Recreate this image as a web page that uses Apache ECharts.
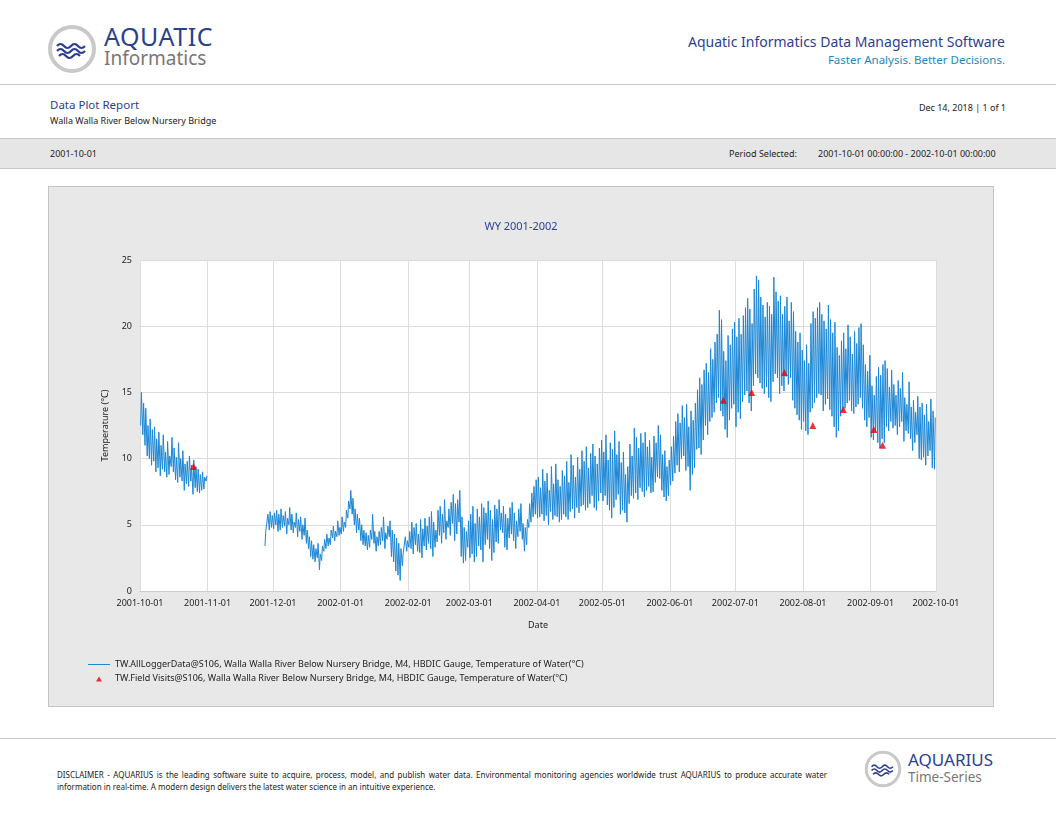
<!DOCTYPE html>
<html>
<head>
<meta charset="utf-8">
<script src="https://cdn.jsdelivr.net/npm/echarts@6.0.0/dist/echarts.min.js"></script>
<style>
  body { margin: 0; width: 1056px; height: 816px; background: #fff; font-family: "Noto Sans", sans-serif; position: relative; overflow: hidden; }
  .abs { position: absolute; white-space: nowrap; }
  .hr { position: absolute; left: 0; width: 1056px; height: 1px; background: #c8c8c8; }
  #panel { position: absolute; left: 48px; top: 186px; width: 944px; height: 519px; background: #e8e8e8; border: 1px solid #c4c4c4; }
  #chart { width: 944px; height: 519px; }
</style>
</head>
<body>
<svg class="abs" style="left:47px;top:24px" width="50" height="50" viewBox="0 0 50 50">
  <circle cx="25" cy="25" r="22" fill="#fff" stroke="#c9c9c9" stroke-width="4"/>
  <path d="M10 22 q3.5 -4 7 0 t7 0 t7 0 t7 0 M10 27 q3.5 -4 7 0 t7 0 t7 0 t7 0 M12 32 q3.5 -4 7 0 t7 0 t7 0" fill="none" stroke="#2b3f8f" stroke-width="2.2"/>
</svg>
<div class="abs" style="left:104px;top:22px;font-size:25px;color:#2b3f8f;line-height:28px;letter-spacing:0.5px">AQUATIC</div>
<div class="abs" style="left:104px;top:47px;font-size:19px;color:#777;line-height:22px">Informatics</div>
<div class="abs" style="right:51px;top:32px;font-size:14px;color:#2b3f8f">Aquatic Informatics Data Management Software</div>
<div class="abs" style="right:51px;top:52px;font-size:11.5px;color:#1a8ac2">Faster Analysis. Better Decisions.</div>
<div class="hr" style="top:84px"></div>
<div class="abs" style="left:50px;top:97px;font-size:11.5px;color:#2b3f8f">Data Plot Report</div>
<div class="abs" style="left:50px;top:114px;font-size:9px;color:#222">Walla Walla River Below Nursery Bridge</div>
<div class="abs" style="right:50px;top:101px;font-size:9px;color:#222">Dec 14, 2018 | 1 of 1</div>
<div class="abs" style="left:0;top:138px;width:1056px;height:29px;background:#e6e6e6;border-top:1px solid #c8c8c8;border-bottom:1px solid #c8c8c8"></div>
<div class="abs" style="left:50px;top:147px;font-size:9px;color:#222">2001-10-01</div>
<div class="abs" style="left:729px;top:147px;font-size:9px;color:#222">Period Selected:</div>
<div class="abs" style="left:818px;top:147px;font-size:9px;color:#222">2001-10-01 00:00:00 - 2002-10-01 00:00:00</div>
<div id="panel"><div id="chart"></div></div>
<div class="hr" style="top:738px"></div>
<div class="abs" style="left:57px;top:769px;font-size:8px;color:#222;line-height:12px;white-space:normal;width:770px;text-align:justify">DISCLAIMER - AQUARIUS is the leading software suite to acquire, process, model, and publish water data. Environmental monitoring agencies worldwide trust AQUARIUS to produce accurate water information in real-time. A modern design delivers the latest water science in an intuitive experience.</div>
<svg class="abs" style="left:864px;top:750px" width="38" height="38" viewBox="0 0 50 50">
  <circle cx="25" cy="25" r="22" fill="#fff" stroke="#c9c9c9" stroke-width="4"/>
  <path d="M10 22 q3.5 -4 7 0 t7 0 t7 0 t7 0 M10 27 q3.5 -4 7 0 t7 0 t7 0 t7 0 M12 32 q3.5 -4 7 0 t7 0 t7 0" fill="none" stroke="#2b3f8f" stroke-width="2.2"/>
</svg>
<div class="abs" style="left:908px;top:750px;font-size:17px;color:#2b3f8f;line-height:20px">AQUARIUS</div>
<div class="abs" style="left:908px;top:769px;font-size:13.5px;color:#777;line-height:16px">Time-Series</div>
<script>
// Daily max,min water temperature (°C)
const dailyMaxMin = {
  '2001-10-01': '15,12.5 14.2,11.8 13.8,11 12.5,10.2 13,10 12.2,9.5 12.4,9.8 11.5,9 12,9.3 11,8.7 11.8,9.2 10.5,9 11.3,8.6 10.2,8.8 11.6,9.4 10.8,9 10.1,8.4 11.2,8.2 10,8.6 10.6,8.3 9.6,7.6 9.8,8.1 10.2,7.9 9.5,8.3 9.9,7.3 9.4,7.8 9.2,7.5 8.8,7.4 9,7.6 8.6,7.7 8.7,8.3',
  '2001-11-27': '4.5,3.4 5.8,4.4 6,4.6 5.7,4.8',
  '2001-12-01': '5.9,4.7 6.1,5 5.8,4.5 6.2,4.6 5.7,4.8 6,4.9 5.5,4.3 6.3,5 5.8,4.6 5.2,4.4 5.9,4.8 5.4,4.1 5.6,4.5 5,3.9 5.5,4.2 4.6,3.6 4.1,3.2 3.8,2.6 3.5,2.4 3.2,2.2 3.6,2.5 2.8,1.6 3.4,2.3 3.9,3 4.3,3.2 4,3.4 4.6,3.5 4.9,4 4.5,3.8 5.3,4.1 4.8,4.2',
  '2002-01-01': '5.6,4.3 5.2,4.5 6.1,4.8 6.8,5.5 7.6,6.2 7,5.8 6.2,5 5.8,4.4 5.5,4.6 5,3.8 4.6,3.5 4.4,3.4 4.2,3.1 4.6,3.3 5.8,3.9 4.5,3.6 4.1,3 4.5,3.4 4.8,3.5 5.6,3.8 4.4,3.2 4.9,3.9 5.3,4.1 4.6,2.6 4.3,2.2 4,1.5 3.6,1.2 3.2,0.8 2.8,1.9 4.1,2.8 3.8,3',
  '2002-02-01': '4.5,3.3 5.2,3.2 4.8,2.8 5.1,3.5 4.3,3 5.4,2.9 4.7,2.5 5.5,3.4 4.9,3.1 5.6,3.6 6,3.2 5.2,2.6 4.6,3.3 6.1,3.7 6.4,4.2 5.8,3.6 6.9,4.4 5.3,3.9 6.2,4.8 6.7,4.2 7.3,5.1 6.6,3.8 6.9,4.3 7.6,5.2 5.6,2.6 4.8,2.1 4.5,2.3 5.3,3.3',
  '2002-03-01': '5.8,2.5 6.4,2.8 5.1,2.2 6.2,2.6 5.6,3.4 6.6,3.1 6.3,2.2 5.9,3.5 6.8,3.9 6.1,3.2 5.4,2.3 6.5,2.9 6.2,3.7 6.9,3.6 5.9,4.6 6.4,4.4 5.8,3.3 5.5,3.1 6.3,4 6.7,4.3 5.9,3.8 5.3,3.2 6.2,4.1 6.6,4.5 5.1,3.9 4.8,3 5.4,3.5 6.6,4.8 7.4,5.2 7.9,5.6 8.4,5.8',
  '2002-04-01': '8.6,5.5 7.8,5.6 9.2,5.8 8.3,5.3 8.9,5.7 7.6,5 9.4,6 8.1,5.4 9.6,5.7 8.4,5.6 7.9,5.2 9.1,5.4 8.7,5.8 9.8,5.6 8.2,5.4 10.3,6 9.5,6.2 8.6,5.5 10.1,6.3 9.2,5.9 10.6,6.4 9.8,6.5 10.9,6.1 9.3,6.3 10.4,6.6 11.1,7.2 10.2,6.3 9.6,6.1 10.8,6.8 11.4,7.4',
  '2002-05-01': '10.5,6.8 11.8,7.2 9.9,6.5 11.2,6.1 10.7,5.5 12.1,6.3 10.3,6.9 11.3,7.3 9.7,5.8 10.5,6.1 8.8,5.9 9.4,5.2 11.1,6.6 10.2,7.2 12.3,7 11.6,7.4 10.8,6.9 11.9,7.8 11.2,7.5 12,7.1 10.9,7.6 11.4,7.9 10.1,7.4 11.7,7.5 11.2,8.2 12.5,8.6 11.8,8.5 10.3,7.6 10.6,7.1 9.4,6.8 9.9,7.2',
  '2002-06-01': '10.9,8 11.7,8.3 12.8,8.9 13.4,9.5 12.7,9 14,10 13.1,10.2 14.1,9.1 12.4,9.4 13.6,7.6 12.9,8.8 14.2,9.3 15.2,10.7 16.1,10.8 15.6,10.3 16.7,11.4 17.2,12.5 16.5,11.8 18.3,12.8 17.5,13.1 18.8,13.5 19.4,14.2 21.2,14.6 20.5,13.6 18.1,13.2 17.4,12.2 19.3,11.6 18.6,12.9 19.8,13.8 20.3,14.1',
  '2002-07-01': '19.2,12.4 20.6,13.5 19.4,13 20.8,14.3 21.4,14.8 22.1,15.1 21.3,14.2 20.2,13.6 22.8,15.5 23.8,16.4 23.5,16.1 22.2,15.7 21.6,15.3 20.7,14.9 21.8,15.4 21.5,14.6 20.9,14.3 23.7,15.8 22.6,16.4 21.9,16.1 22.3,14.9 20.9,15.5 21.5,15.1 22.2,16.2 20.4,15.6 21.8,16.1 21.1,14.4 19.6,13.8 18.8,13.3 19.5,12.9 18.2,12.2',
  '2002-08-01': '17.4,12.8 18.6,12.1 17.2,11.8 20.2,13.5 21.1,13.8 20.6,14.2 21.4,14.6 21.8,14.9 20.9,14.8 20.4,13.6 19.8,14.1 21.6,14.5 20.5,13.7 19.5,13.2 20.3,12.4 18.4,11.6 17.8,12.1 18.9,13.2 19.5,13.6 18.3,13.8 20.1,14.2 19.2,14.4 17.9,13.6 19.6,13.4 18.7,13.9 19.9,14.1 20.2,14.6 18.6,13.8 17.1,12.9 16.6,12.4 17.8,13.1',
  '2002-09-01': '15.5,11.6 14.8,11.4 16.2,12 16.9,11.2 16.3,10.8 17.1,11.5 17.4,11.2 16.8,12.4 15.4,12.1 16.7,12.8 15.6,12.3 14.8,12.5 15.9,11.8 15.3,12.4 16.5,12.8 14.6,11.3 14.1,12.1 15.8,11.9 13.9,11.5 14.4,10.6 13.5,11.2 14.7,11.8 13.9,10 14.2,9.9 13.3,10.1 14.1,9.5 12.8,10.2 14.5,10.6 13.6,9.3 13.1,9.2'
};

const fieldVisits = [
  ['2001-10-25 12:00', 9.4], ['2002-06-25 12:00', 14.4], ['2002-07-08 12:00', 15.0],
  ['2002-07-23 12:00', 16.5], ['2002-08-05 12:00', 12.5], ['2002-08-19 12:00', 13.7],
  ['2002-09-02 12:00', 12.2], ['2002-09-06 12:00', 11.0]
];

const DAY = 86400000;
const loggerData = [];
Object.keys(dailyMaxMin).forEach((start, i) => {
  const [y, m, d] = start.split('-').map(Number);
  const t0 = Date.UTC(y, m - 1, d);
  if (i === 1) loggerData.push([Date.UTC(2001, 10, 5), null]); // break for November gap
  dailyMaxMin[start].split(' ').forEach((pair, k) => {
    const [mx, mn] = pair.split(',').map(Number);
    loggerData.push([t0 + k * DAY + 0.3 * DAY, mn]);
    loggerData.push([t0 + k * DAY + 0.65 * DAY, mx]);
  });
});

const visitData = fieldVisits.map(([s, v]) => {
  const [y, m, d] = s.split(' ')[0].split('-').map(Number);
  return [Date.UTC(y, m - 1, d, 12), v];
});

// month starts for ticks and grid lines
const monthStarts = [];
for (let k = 0; k <= 12; k++) monthStarts.push(Date.UTC(2001, 9 + k, 1));

const chart = echarts.init(document.getElementById('chart'));
const fmt = t => { const d = new Date(t); return d.getUTCFullYear() + '-' + String(d.getUTCMonth() + 1).padStart(2, '0') + '-01'; };

chart.setOption({
  animation: false,
  textStyle: { fontFamily: 'Noto Sans' },
  title: { text: 'WY 2001-2002', left: 'center', top: 29, textStyle: { fontSize: 11, fontWeight: 'normal', color: '#2b3f9f' } },
  grid: { left: 91, right: 57, top: 73, bottom: 115, show: true, backgroundColor: '#fff', borderWidth: 0 },
  xAxis: {
    type: 'value', min: monthStarts[0], max: monthStarts[12],
    name: 'Date', nameLocation: 'middle', nameGap: 30, nameTextStyle: { fontSize: 9, color: '#222' },
    axisLine: { lineStyle: { color: '#ccc' } },
    axisLabel: {
      fontSize: 9, color: '#222', showMinLabel: true, showMaxLabel: true,
      customValues: monthStarts, formatter: v => fmt(v)
    },
    splitLine: { show: true, lineStyle: { color: '#dcdcdc' } },
    axisTick: { show: false, customValues: monthStarts }
  },
  yAxis: {
    type: 'value', min: 0, max: 25, interval: 5,
    name: 'Temperature (°C)', nameLocation: 'middle', nameGap: 30, nameTextStyle: { fontSize: 9, color: '#222' },
    axisLine: { show: false }, axisTick: { show: false },
    axisLabel: { fontSize: 9, color: '#222' },
    splitLine: { lineStyle: { color: '#dcdcdc' } }
  },
  legend: {
    orient: 'vertical', left: 34, top: 468, itemGap: 5, itemWidth: 22, itemHeight: 8,
    textStyle: { fontSize: 9, color: '#222' },
    data: [
      { name: 'TW.AllLoggerData@S106, Walla Walla River Below Nursery Bridge, M4, HBDIC Gauge, Temperature of Water(°C)', icon: 'path://M0,3.5 L22,3.5 L22,4.5 L0,4.5 Z M0,0 L0.01,0 M0,8 L0.01,8 Z' },
      { name: 'TW.Field Visits@S106, Walla Walla River Below Nursery Bridge, M4, HBDIC Gauge, Temperature of Water(°C)', icon: 'path://M11,2 L14,7 L8,7 Z M0,0 L0.01,0.01 Z M22,8 L21.99,7.99 Z' }
    ]
  },
  series: [
    {
      name: 'TW.AllLoggerData@S106, Walla Walla River Below Nursery Bridge, M4, HBDIC Gauge, Temperature of Water(°C)',
      type: 'line', data: loggerData, showSymbol: false, connectNulls: false, z: 2,
      lineStyle: { color: '#1b87d6', width: 1 }, itemStyle: { color: '#1b87d6' }
    },
    {
      name: 'TW.Field Visits@S106, Walla Walla River Below Nursery Bridge, M4, HBDIC Gauge, Temperature of Water(°C)',
      type: 'scatter', data: visitData, symbol: 'triangle', symbolSize: 7, z: 5,
      itemStyle: { color: '#e8000b' }
    }
  ]
});
</script>
</body>
</html>
